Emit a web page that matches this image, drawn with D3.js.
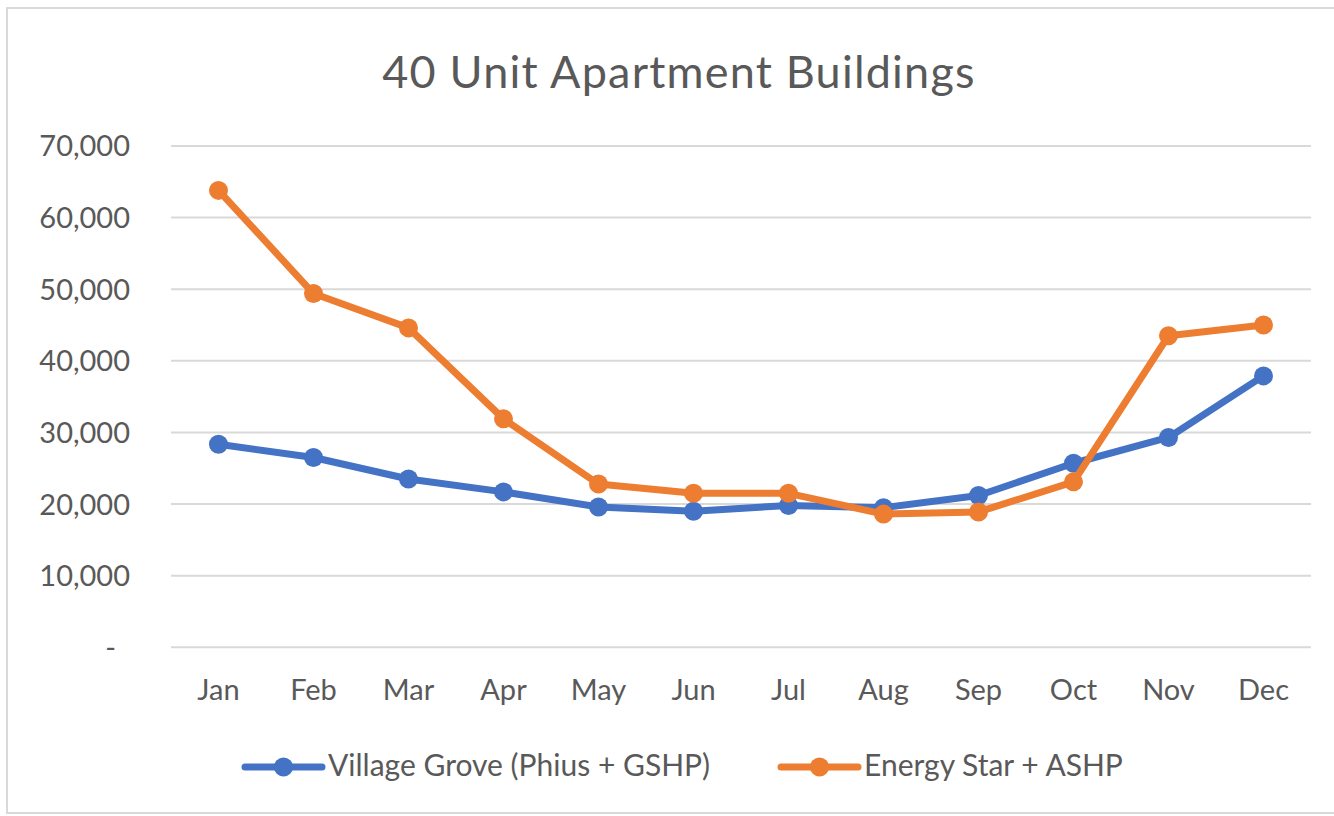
<!DOCTYPE html>
<html>
<head>
<meta charset="utf-8">
<script src="https://cdn.jsdelivr.net/npm/d3@7"></script>
<style>
  html, body { margin: 0; padding: 0; background: #ffffff; }
  svg { display: block; }
  text { font-family: Lato, "Open Sans", sans-serif; fill: #595959; }
</style>
</head>
<body>
<svg id="chart" width="1334" height="816"></svg>
<script>
// Monthly values for the two building configurations
const months = ["Jan", "Feb", "Mar", "Apr", "May", "Jun", "Jul", "Aug", "Sep", "Oct", "Nov", "Dec"];
const villageGrove = [28350, 26500, 23500, 21700, 19600, 19000, 19800, 19500, 21200, 25700, 29300, 37900];
const energyStar = [63800, 49400, 44600, 31900, 22800, 21500, 21500, 18600, 18900, 23100, 43500, 45000];
const yTicks = [0, 10000, 20000, 30000, 40000, 50000, 60000, 70000];
const seriesNames = ["Village Grove (Phius + GSHP)", "Energy Star + ASHP"];
const seriesColors = ["#4472C4", "#ED7D31"];

const svg = d3.select("#chart");

// outer chart frame
svg.append("rect")
  .attr("x", 7).attr("y", 8)
  .attr("width", 1340).attr("height", 805)
  .attr("fill", "none").attr("stroke", "#D9D9D9").attr("stroke-width", 2);

// title
svg.append("text")
  .attr("x", 679).attr("y", 88)
  .attr("text-anchor", "middle")
  .style("font-size", "45px")
  .style("letter-spacing", "1.2px")
  .text("40 Unit Apartment Buildings");

const plot = { left: 171, right: 1311, top: 146, bottom: 647.3 };

const x = d3.scaleBand().domain(months).range([plot.left, plot.right]);
const y = d3.scaleLinear().domain([0, 70000]).range([plot.bottom, plot.top]);

// horizontal gridlines
svg.append("g")
  .selectAll("line")
  .data(yTicks)
  .join("line")
  .attr("x1", plot.left).attr("x2", plot.right)
  .attr("y1", d => y(d)).attr("y2", d => y(d))
  .attr("stroke", "#D9D9D9").attr("stroke-width", 2);

// y axis labels (accounting style: zero shown as a dash)
const fmt = d3.format(",");
svg.append("g")
  .selectAll("text")
  .data(yTicks)
  .join("text")
  .attr("x", d => d === 0 ? 116 : 130)
  .attr("y", d => y(d))
  .attr("dy", "0.36em")
  .attr("text-anchor", "end")
  .style("font-size", "29px")
  .text(d => d === 0 ? "-" : fmt(d));

// x axis labels
svg.append("g")
  .selectAll("text")
  .data(months)
  .join("text")
  .attr("x", d => x(d) + x.bandwidth() / 2)
  .attr("y", 700)
  .attr("text-anchor", "middle")
  .style("font-size", "29px")
  .text(d => d);

const line = d3.line()
  .x((d, i) => x(months[i]) + x.bandwidth() / 2)
  .y(d => y(d));

[villageGrove, energyStar].forEach((vals, k) => {
  const g = svg.append("g");
  g.append("path")
    .datum(vals)
    .attr("d", line)
    .attr("fill", "none")
    .attr("stroke", seriesColors[k])
    .attr("stroke-width", 7)
    .attr("stroke-linejoin", "round")
    .attr("stroke-linecap", "round");
  g.selectAll("circle")
    .data(vals)
    .join("circle")
    .attr("cx", (d, i) => x(months[i]) + x.bandwidth() / 2)
    .attr("cy", d => y(d))
    .attr("r", 9.5)
    .attr("fill", seriesColors[k]);
});

// legend
const legendItems = [
  { x0: 245, x1: 322, textX: 328 },
  { x0: 781, x1: 858, textX: 864 }
];
legendItems.forEach((it, k) => {
  const g = svg.append("g");
  const ly = 767;
  g.append("line")
    .attr("x1", it.x0).attr("x2", it.x1)
    .attr("y1", ly).attr("y2", ly)
    .attr("stroke", seriesColors[k]).attr("stroke-width", 7)
    .attr("stroke-linecap", "round");
  g.append("circle")
    .attr("cx", (it.x0 + it.x1) / 2).attr("cy", ly)
    .attr("r", 9.5).attr("fill", seriesColors[k]);
  g.append("text")
    .attr("x", it.textX).attr("y", 776)
    .style("font-size", "30px")
    .text(seriesNames[k]);
});
</script>
</body>
</html>
